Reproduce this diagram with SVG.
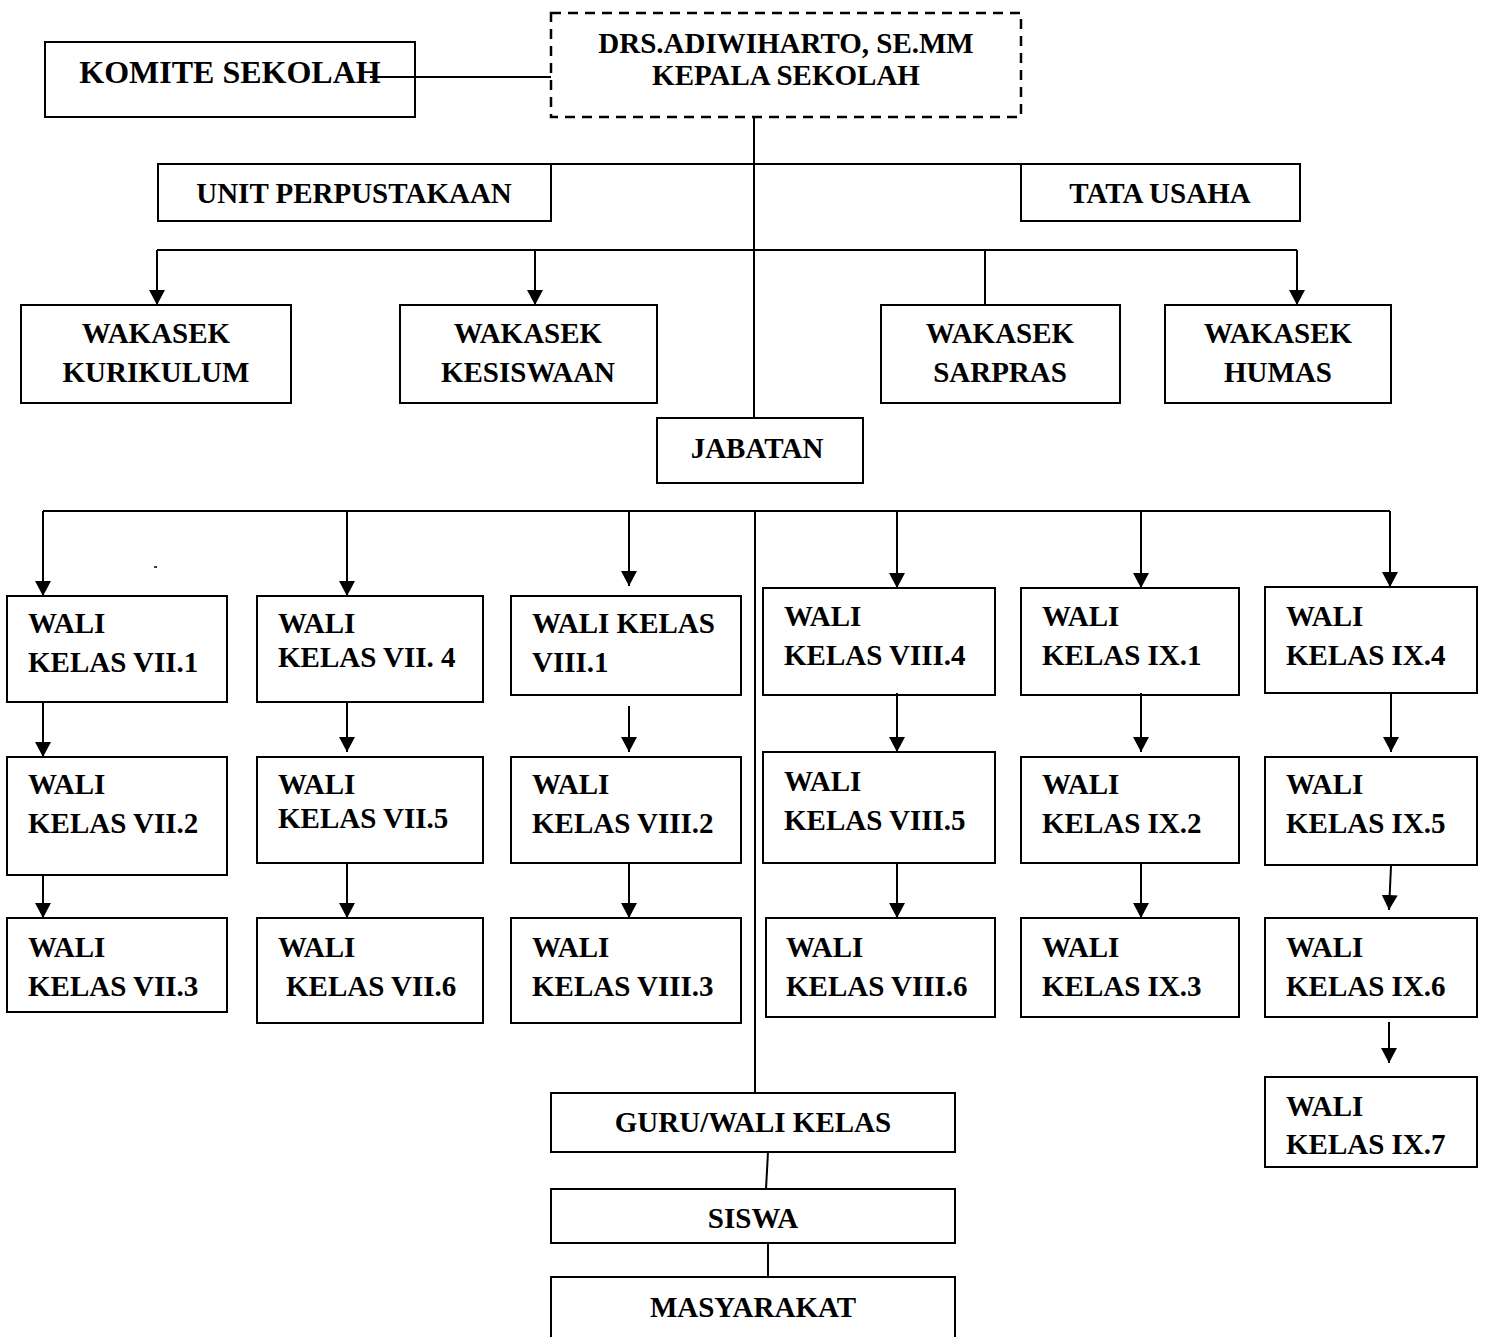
<svg xmlns="http://www.w3.org/2000/svg" width="1485" height="1337" viewBox="0 0 1485 1337">
<style>
  .box{fill:#fff;stroke:#000;stroke-width:2}
  .dash{fill:#fff;stroke:#000;stroke-width:2.5;stroke-dasharray:10 7}
  .t{font-family:"Liberation Serif","Times New Roman",serif;font-weight:bold;font-size:29px;fill:#000}
  .c{text-anchor:middle}
  .ln{fill:none;stroke:#000;stroke-width:2}
  .ar{fill:none;stroke:#000;stroke-width:2;marker-end:url(#ah)}
</style>
<defs>
  <marker id="ah" viewBox="0 0 15 16" refX="15" refY="8" markerWidth="15" markerHeight="16" markerUnits="userSpaceOnUse" orient="auto">
    <path d="M0,0 L15,8 L0,16 z" fill="#000"/>
  </marker>
</defs>
<rect width="1485" height="1337" fill="#fff"/>

<g id="komite"><rect class="box" x="45" y="42" width="370" height="75"/><text class="t c" x="230" y="83" style="font-size:32px">KOMITE SEKOLAH</text></g>
<g id="kepala"><rect class="dash" x="551" y="13" width="470" height="104"/><text class="t c" x="786" y="53">DRS.ADIWIHARTO, SE.MM</text><text class="t c" x="786" y="85">KEPALA SEKOLAH</text></g>
<g id="perpus"><rect class="box" x="158" y="164" width="393" height="57"/><text class="t c" x="354" y="203">UNIT PERPUSTAKAAN</text></g>
<g id="tu"><rect class="box" x="1021" y="164" width="279" height="57"/><text class="t c" x="1160" y="203">TATA USAHA</text></g>

<g id="kurikulum"><rect class="box" x="21" y="305" width="270" height="98"/><text class="t c" x="156" y="343">WAKASEK</text><text class="t c" x="156" y="382">KURIKULUM</text></g>
<g id="kesiswaan"><rect class="box" x="400" y="305" width="257" height="98"/><text class="t c" x="528" y="343">WAKASEK</text><text class="t c" x="528" y="382">KESISWAAN</text></g>
<g id="sarpras"><rect class="box" x="881" y="305" width="239" height="98"/><text class="t c" x="1000" y="343">WAKASEK</text><text class="t c" x="1000" y="382">SARPRAS</text></g>
<g id="humas"><rect class="box" x="1165" y="305" width="226" height="98"/><text class="t c" x="1278" y="343">WAKASEK</text><text class="t c" x="1278" y="382">HUMAS</text></g>
<g id="jabatan"><rect class="box" x="657" y="418" width="206" height="65"/><text class="t c" x="757" y="458">JABATAN</text></g>

<g id="vii1"><rect class="box" x="7" y="596" width="220" height="106"/><text class="t" x="28" y="633">WALI</text><text class="t" x="28" y="672">KELAS VII.1</text></g>
<g id="vii2"><rect class="box" x="7" y="757" width="220" height="118"/><text class="t" x="28" y="794">WALI</text><text class="t" x="28" y="833">KELAS VII.2</text></g>
<g id="vii3"><rect class="box" x="7" y="918" width="220" height="94"/><text class="t" x="28" y="957">WALI</text><text class="t" x="28" y="996">KELAS VII.3</text></g>

<g id="vii4"><rect class="box" x="257" y="596" width="226" height="106"/><text class="t" x="278" y="633">WALI</text><text class="t" x="278" y="667">KELAS VII. 4</text></g>
<g id="vii5"><rect class="box" x="257" y="757" width="226" height="106"/><text class="t" x="278" y="794">WALI</text><text class="t" x="278" y="828">KELAS VII.5</text></g>
<g id="vii6"><rect class="box" x="257" y="918" width="226" height="105"/><text class="t" x="278" y="957">WALI</text><text class="t" x="286" y="996">KELAS VII.6</text></g>

<g id="viii1"><rect class="box" x="511" y="596" width="230" height="99"/><text class="t" x="532" y="633">WALI KELAS</text><text class="t" x="532" y="672">VIII.1</text></g>
<g id="viii2"><rect class="box" x="511" y="757" width="230" height="106"/><text class="t" x="532" y="794">WALI</text><text class="t" x="532" y="833">KELAS VIII.2</text></g>
<g id="viii3"><rect class="box" x="511" y="918" width="230" height="105"/><text class="t" x="532" y="957">WALI</text><text class="t" x="532" y="996">KELAS VIII.3</text></g>

<g id="viii4"><rect class="box" x="763" y="588" width="232" height="107"/><text class="t" x="784" y="626">WALI</text><text class="t" x="784" y="665">KELAS VIII.4</text></g>
<g id="viii5"><rect class="box" x="763" y="752" width="232" height="111"/><text class="t" x="784" y="791">WALI</text><text class="t" x="784" y="830">KELAS VIII.5</text></g>
<g id="viii6"><rect class="box" x="766" y="918" width="229" height="99"/><text class="t" x="786" y="957">WALI</text><text class="t" x="786" y="996">KELAS VIII.6</text></g>

<g id="ix1"><rect class="box" x="1021" y="588" width="218" height="107"/><text class="t" x="1042" y="626">WALI</text><text class="t" x="1042" y="665">KELAS IX.1</text></g>
<g id="ix2"><rect class="box" x="1021" y="757" width="218" height="106"/><text class="t" x="1042" y="794">WALI</text><text class="t" x="1042" y="833">KELAS IX.2</text></g>
<g id="ix3"><rect class="box" x="1021" y="918" width="218" height="99"/><text class="t" x="1042" y="957">WALI</text><text class="t" x="1042" y="996">KELAS IX.3</text></g>

<g id="ix4"><rect class="box" x="1265" y="587" width="212" height="106"/><text class="t" x="1286" y="626">WALI</text><text class="t" x="1286" y="665">KELAS IX.4</text></g>
<g id="ix5"><rect class="box" x="1265" y="757" width="212" height="108"/><text class="t" x="1286" y="794">WALI</text><text class="t" x="1286" y="833">KELAS IX.5</text></g>
<g id="ix6"><rect class="box" x="1265" y="918" width="212" height="99"/><text class="t" x="1286" y="957">WALI</text><text class="t" x="1286" y="996">KELAS IX.6</text></g>
<g id="ix7"><rect class="box" x="1265" y="1077" width="212" height="90"/><text class="t" x="1286" y="1116">WALI</text><text class="t" x="1286" y="1154">KELAS IX.7</text></g>

<g id="guru"><rect class="box" x="551" y="1093" width="404" height="59"/><text class="t c" x="753" y="1132">GURU/WALI KELAS</text></g>
<g id="siswa"><rect class="box" x="551" y="1189" width="404" height="54"/><text class="t c" x="753" y="1228">SISWA</text></g>
<g id="masyarakat"><rect class="box" x="551" y="1277" width="404" height="66"/><text class="t c" x="753" y="1317">MASYARAKAT</text></g>

<g id="connectors">
  <path class="ln" d="M370,77 H551"/>
  <path class="ln" d="M754,117 V418"/>
  <path class="ln" d="M551,164 H1021"/>
  <path class="ln" d="M157,250 H1297"/>
  <path class="ar" d="M157,250 V305"/>
  <path class="ar" d="M535,250 V305"/>
  <path class="ln" d="M985,250 V305"/>
  <path class="ar" d="M1297,250 V305"/>
  <path class="ln" d="M43,511 H1390"/>
  <path class="ln" d="M755,511 V1093"/>
  <path class="ar" d="M43,511 V596"/>
  <path class="ar" d="M347,511 V596"/>
  <path class="ar" d="M629,511 V586"/>
  <path class="ar" d="M897,511 V588"/>
  <path class="ar" d="M1141,511 V588"/>
  <path class="ar" d="M1390,511 V587"/>
  <path class="ar" d="M43,702 V757"/>
  <path class="ar" d="M43,875 V918"/>
  <path class="ar" d="M347,702 V752"/>
  <path class="ar" d="M347,863 V918"/>
  <path class="ar" d="M629,706 V752"/>
  <path class="ar" d="M629,863 V918"/>
  <path class="ar" d="M897,693 V752"/>
  <path class="ar" d="M897,863 V918"/>
  <path class="ar" d="M1141,693 V752"/>
  <path class="ar" d="M1141,863 V918"/>
  <path class="ar" d="M1391,693 V752"/>
  <path class="ar" d="M1391,866 L1389,910"/>
  <path class="ar" d="M1389,1022 V1063"/>
  <path class="ln" d="M768,1152 L766,1189"/>
  <path class="ln" d="M768,1243 V1277"/>
  <path class="ln" d="M154,567 H157" style="stroke-width:1.5"/>
</g>
</svg>
